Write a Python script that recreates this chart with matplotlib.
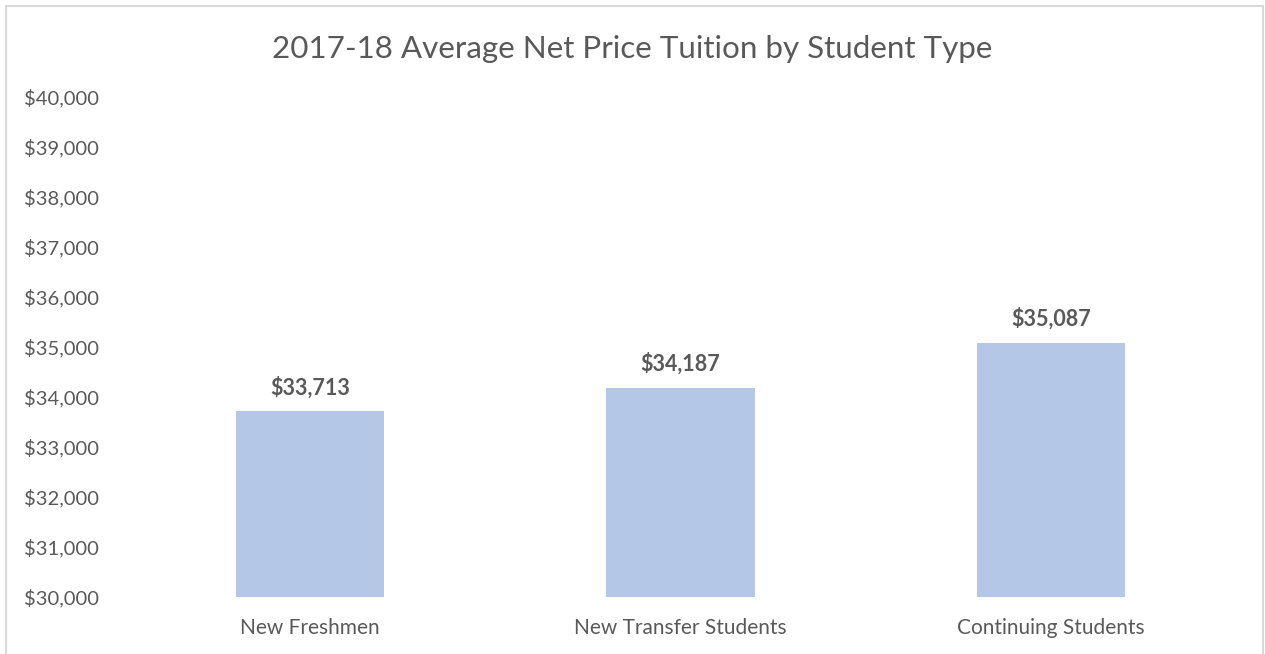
import matplotlib.pyplot as plt
from matplotlib.patches import Rectangle
from matplotlib.ticker import FuncFormatter

# data
student_types = ["New Freshmen", "New Transfer Students", "Continuing Students"]
net_price = [33713, 34187, 35087]
y_ticks = list(range(30000, 40001, 1000))

text_color = "#595959"
bar_color = "#B4C7E7"

plt.rcParams["font.family"] = ["Lato", "DejaVu Sans"]

fig = plt.figure(figsize=(12.65, 6.54), dpi=100)
ax = fig.add_axes([0.0988, 0.0872, 0.8782, 0.7645])

x = range(len(student_types))
bars = ax.bar(x, net_price, width=0.4, color=bar_color, zorder=2)

for xi, val in zip(x, net_price):
    ax.text(xi, val + 250, f"${val:,.0f}", ha="center", va="bottom",
            fontsize=15.5, fontweight="bold", color=text_color)

ax.set_ylim(30000, 40000)
ax.set_xlim(-0.5, len(student_types) - 0.5)
ax.set_yticks(y_ticks)
ax.yaxis.set_major_formatter(FuncFormatter(lambda v, _: f"${v:,.0f}"))
ax.set_xticks(list(x))
ax.set_xticklabels(student_types)
ax.tick_params(axis="y", length=0, labelsize=14.5, colors=text_color, pad=73)
ax.tick_params(axis="x", length=0, labelsize=15, colors=text_color, pad=15.5)
for lbl in ax.get_yticklabels():
    lbl.set_horizontalalignment("left")
for side in ["top", "right", "left", "bottom"]:
    ax.spines[side].set_visible(False)

fig.text(0.5, 0.925, "2017-18 Average Net Price Tuition by Student Type",
         ha="center", va="center", fontsize=22.6, color=text_color)

# chart frame
fig.patches.append(Rectangle((6 / 1265, -0.05), 1257 / 1265, 0.05 + 648 / 654,
                             transform=fig.transFigure, fill=False,
                             edgecolor="#D9D9D9", linewidth=1.5))

fig.savefig("out.png", dpi=100)
